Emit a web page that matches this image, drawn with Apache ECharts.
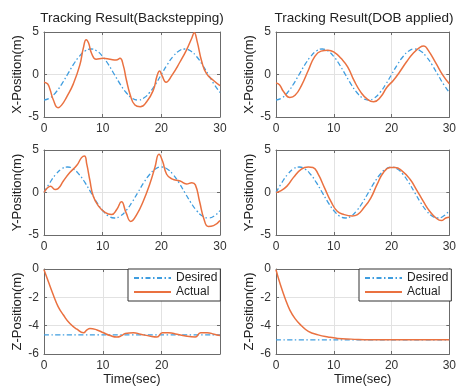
<!DOCTYPE html>
<html><head><meta charset="utf-8">
<script src="https://cdn.jsdelivr.net/npm/echarts@6/dist/echarts.min.js"></script>
<style>html,body{margin:0;padding:0;background:#fff}#c{width:459px;height:392px}</style>
</head><body><div id="c"></div>
<script>
// ---- data ----
const panelTitles = ['Tracking Result(Backstepping)', 'Tracking Result(DOB applied)'];
const yNames = ['X-Position(m)', 'Y-Position(m)', 'Z-Position(m)'];
const xName = 'Time(sec)';
const legendNames = ['Desired', 'Actual'];

// desired trajectories (sampled each second)
const tDes = [0,1,2,3,4,5,6,7,8,9,10,11,12,13,14,15,16,17,18,19,20,21,22,23,24,25,26,27,28,29,30];
const xDes = [-3,-2.77,-2.12,-1.15,0,1.15,2.12,2.77,3,2.77,2.12,1.15,0,-1.15,-2.12,-2.77,-3,-2.77,-2.12,-1.15,0,1.15,2.12,2.77,3,2.77,2.12,1.15,0,-1.15,-2.12];
const yDes = [0,1.15,2.12,2.77,3,2.77,2.12,1.15,0,-1.15,-2.12,-2.77,-3,-2.77,-2.12,-1.15,0,1.15,2.12,2.77,3,2.77,2.12,1.15,0,-1.15,-2.12,-2.77,-3,-2.77,-2.12];
const tZDesB = [0, 29.9];
const zDesB = [-4.65, -4.65];
const tZDesD = [0, 30];
const zDesD = [-5, -5];

// actual, backstepping
const tXb = [0,0.6,1.0,1.6,2.4,3.0,3.9,5.0,6.1,6.7,7.2,7.6,8.1,8.9,10.1,11.25,12.3,12.95,13.5,14.0,14.7,15.5,16.4,17.5,18.6,19.3,19.7,20.1,20.8,21.8,23.2,24.3,25.2,25.6,26.1,26.9,27.7,28.9,30];
const xB  = [-0.9,-1.1,-1.7,-3.0,-3.9,-3.6,-2.6,-1.1,1.1,3.1,4.1,3.7,2.5,1.8,1.9,1.8,1.7,1.9,1.1,-0.5,-2.4,-3.6,-3.8,-3.2,-1.9,-0.1,0.4,-0.1,-0.9,-0.1,1.5,2.9,4.3,4.9,3.9,1.5,0.1,-0.7,-1.3];
const tYb = [0,0.6,1.1,1.9,2.4,3.3,4.4,5.6,6.4,6.9,7.3,7.8,8.4,9.3,10.4,11.5,12.4,13.2,14.0,14.8,15.8,16.9,18.1,18.9,19.6,20.2,20.9,21.8,23.2,24.3,25.2,25.8,26.5,27.3,28.0,28.9,30];
const yB  = [0,0.55,0.75,0.35,0.45,1.35,2.35,3.2,4.1,4.3,3.3,1.5,-0.45,-1.6,-2.35,-2.6,-2.0,-1.1,-2.4,-3.4,-2.6,-1.05,1.15,2.95,4.5,3.7,2.15,1.6,1.35,1.0,1.15,0.9,-1.0,-3.2,-4.0,-3.9,-3.3];
const tZb = [0,0.75,1.6,2.4,3.3,4.4,5.6,6.7,7.3,7.8,9.0,10.1,11.25,12.4,13.2,13.8,15.2,16.4,18.1,19.2,20.1,21.2,22.6,24.3,25.7,26.6,27.7,28.9,29.9];
const zB  = [-0.05,-0.9,-1.85,-2.65,-3.25,-3.85,-4.25,-4.5,-4.3,-4.2,-4.3,-4.5,-4.7,-4.8,-4.7,-4.55,-4.5,-4.6,-4.75,-4.8,-4.5,-4.5,-4.6,-4.75,-4.8,-4.5,-4.5,-4.6,-4.7];

// actual, DOB applied
const tXd = [0,0.6,1.3,2.4,3.3,4.4,5.6,6.7,7.8,9.0,10.1,11.25,12.4,13.5,14.7,15.8,16.9,18.1,19.2,20.3,21.4,22.6,23.75,24.9,25.6,26.3,27.7,28.9,30];
const xD  = [-1.0,-1.2,-2.0,-2.7,-2.45,-1.3,0.5,2.1,2.75,2.85,2.6,1.9,0.9,-0.7,-2.1,-2.9,-3.2,-2.65,-1.5,-0.7,0.3,1.5,2.5,3.2,3.35,2.9,1.3,-0.1,-1.1];
const tYd = [0,0.7,1.9,3.0,4.4,5.6,6.4,7.3,8.4,9.5,10.6,11.8,13.2,14.1,15.2,16.4,17.5,18.6,19.8,20.6,21.8,23.2,24.3,25.5,26.6,27.7,28.6,29.4,30];
const yD  = [0,0.15,0.75,1.75,2.75,3.0,2.95,2.15,0.55,-1.05,-2.2,-2.6,-2.75,-2.6,-1.8,-0.65,0.95,2.35,2.95,2.95,2.55,1.55,0.35,-1.05,-2.2,-3.0,-3.3,-3.0,-2.9];
const tZd = [0,0.75,1.6,2.4,3.3,4.4,5.6,7.3,9,10.7,13,16.4,20,25,30];
const zD  = [-0.05,-1.1,-2.1,-2.9,-3.5,-4.0,-4.4,-4.65,-4.8,-4.9,-4.95,-5,-5,-5,-5];

const xTicks = [0, 10, 20, 30];
const posTicks = [-5, 0, 5];
const zTicks = [-6, -4, -2, 0];

// ---- chart ----
const FONT = 'Liberation Sans, Arial, sans-serif';
const BLUE = '#3f9ddf', ORANGE = '#ea7140', AXC = '#6b6b6b', TXT = '#333';
const zip = (t, v) => t.map((x, i) => [x, v[i]]);

const panels = [
  {left:44,  top:32,  des:[tDes,xDes],    act:[tXb,xB], row:0, xmax:30},
  {left:276, top:32,  des:[tDes,xDes],    act:[tXd,xD], row:0, xmax:30},
  {left:44,  top:150, des:[tDes,yDes],    act:[tYb,yB], row:1, xmax:30},
  {left:276, top:150, des:[tDes,yDes],    act:[tYd,yD], row:1, xmax:30},
  {left:44,  top:269, des:[tZDesB,zDesB], act:[tZb,zB], row:2, xmax:29.9},
  {left:276, top:269, des:[tZDesD,zDesD], act:[tZd,zD], row:2, xmax:30},
];

const grid = [], xAxis = [], yAxis = [], series = [];
panels.forEach((p, i) => {
  grid.push({left:p.left, top:p.top, width:176, height:85, containLabel:false});
  const yt = p.row === 2 ? zTicks : posTicks;
  const yint = yt[1] - yt[0];
  const common = () => ({
    axisLine:{show:true, onZero:false, lineStyle:{color:AXC, width:1}},
    axisTick:{show:true, inside:true, length:3, lineStyle:{color:AXC}},
  });
  xAxis.push(Object.assign({type:'value', gridIndex:i, position:'bottom', min:xTicks[0], max:p.xmax, interval:xTicks[1]-xTicks[0],
    axisLabel:{fontSize:12, color:TXT, fontFamily:FONT, margin:6, showMaxLabel: p.xmax === xTicks[xTicks.length-1]},
    splitLine:{show:true, lineStyle:{color:'#e2e2e2', width:1}},
    name: p.row === 2 ? xName : '', nameLocation:'middle', nameGap:13,
    nameTextStyle:{fontSize:13, color:'#222', fontFamily:FONT}}, common()));
  xAxis.push(Object.assign({type:'value', gridIndex:i, position:'top', min:xTicks[0], max:p.xmax, interval:xTicks[1]-xTicks[0],
    axisLabel:{show:false}, splitLine:{show:false}}, common()));
  yAxis.push(Object.assign({type:'value', gridIndex:i, position:'left', min:yt[0], max:yt[yt.length-1], interval:yint,
    axisLabel:{fontSize:12, color:TXT, fontFamily:FONT, margin:5},
    splitLine:{show:true, lineStyle:{color:'#e2e2e2', width:1}},
    name: yNames[p.row], nameLocation:'middle', nameGap:20, nameRotate:90,
    nameTextStyle:{fontSize:13, color:'#222', fontFamily:FONT}}, common()));
  yAxis.push(Object.assign({type:'value', gridIndex:i, position:'right', min:yt[0], max:yt[yt.length-1], interval:yint,
    axisLabel:{show:false}, splitLine:{show:false}}, common()));
  series.push({type:'line', name:legendNames[0], xAxisIndex:2*i, yAxisIndex:2*i, data:zip(p.des[0], p.des[1]),
    symbol:'none', smooth:0.5, silent:true,
    lineStyle:{color:BLUE, width:1.3, type:[5,2.5,1.5,2.5]}, itemStyle:{color:BLUE}});
  series.push({type:'line', name:legendNames[1], xAxisIndex:2*i, yAxisIndex:2*i, data:zip(p.act[0], p.act[1]),
    symbol:'none', smooth:0.5, silent:true,
    lineStyle:{color:ORANGE, width:1.5, type:'solid'}, itemStyle:{color:ORANGE}});
});

const legendCommon = {
  data: legendNames, orient:'vertical', top:269, itemWidth:37, itemHeight:12, itemGap:2,
  padding:[3,3,3,5], borderColor:'#333', borderWidth:1, borderRadius:0, backgroundColor:'#fff',
  itemStyle:{opacity:0, color:'transparent', borderWidth:0},
  textStyle:{fontSize:12, color:'#222', fontFamily:FONT}, selectedMode:false
};

const chart = echarts.init(document.getElementById('c'), null, {renderer:'canvas'});
chart.setOption({
  animation:false,
  backgroundColor:'#fff',
  grid, xAxis, yAxis, series,
  legend:[Object.assign({left:128}, legendCommon), Object.assign({left:359}, legendCommon)],
  graphic:[
    {type:'text', x:132, y:18, style:{text:panelTitles[0], align:'center', verticalAlign:'middle', fontSize:13.5, fontFamily:FONT, fill:'#222'}},
    {type:'text', x:364, y:18, style:{text:panelTitles[1], align:'center', verticalAlign:'middle', fontSize:13.5, fontFamily:FONT, fill:'#222'}},
  ]
});
</script>
</body></html>
